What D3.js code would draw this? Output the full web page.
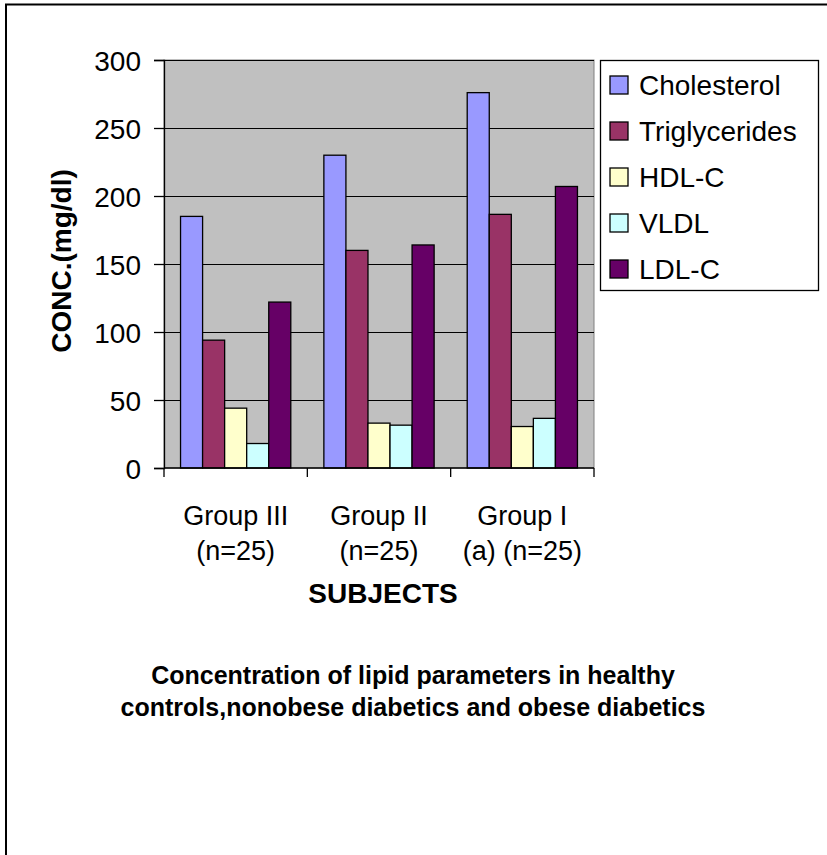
<!DOCTYPE html>
<html>
<head>
<meta charset="utf-8">
<script src="https://cdn.jsdelivr.net/npm/d3@7"></script>
<style>
  body { margin: 0; background: #fff; }
  svg text { font-family: "Liberation Sans", Arial, sans-serif; fill: #000; }
</style>
</head>
<body>
<div id="chart"></div>
<script>

// Data
const groups = ["Group III", "Group II", "Group I"]
const groupSubLabels = ["(n=25)", "(n=25)", "(a) (n=25)"]
const series = ["Cholesterol", "Triglycerides", "HDL-C", "VLDL", "LDL-C"]
const cholesterol = [185, 230, 276]
const triglycerides = [94, 160, 186.5]
const hdl = [44, 33, 30.5]
const vldl = [18, 31.5, 36.5]
const ldl = [122, 164, 207]
const yTicks = [0, 50, 100, 150, 200, 250, 300]

const seriesValues = [cholesterol, triglycerides, hdl, vldl, ldl]
const colors = ["#9999FF", "#993366", "#FFFFCC", "#CCFFFF", "#660066"]

const width = 827
const height = 855
const plot = {left: 164, right: 594, top: 60, bottom: 468}

const svg = d3.select("#chart")
    .append("svg")
    .attr("width", width)
    .attr("height", height)

// Outer frame (only top and left visible in the picture)
svg.append("rect")
    .attr("x", 6)
    .attr("y", 4.5)
    .attr("width", width + 10)
    .attr("height", height + 10)
    .attr("fill", "none")
    .attr("stroke", "#000")
    .attr("stroke-width", 2)

// Scales
const x0 = d3.scaleBand()
    .domain(groups)
    .range([plot.left, plot.right])

const x1 = d3.scaleBand()
    .domain(series)
    .range([0, x0.bandwidth()])
    .paddingOuter(0.75)

const y = d3.scaleLinear()
    .domain([0, 300])
    .range([plot.bottom, plot.top])

// Plot area
svg.append("rect")
    .attr("x", plot.left)
    .attr("y", plot.top)
    .attr("width", plot.right - plot.left)
    .attr("height", plot.bottom - plot.top)
    .attr("fill", "#C0C0C0")
    .attr("stroke", "#808080")
    .attr("stroke-width", 1)

// Gridlines
svg.append("g")
    .selectAll("line")
    .data(yTicks.filter(d => d > 0))
    .enter()
    .append("line")
    .attr("x1", plot.left)
    .attr("x2", plot.right)
    .attr("y1", d => Math.round(y(d)) + 0.5)
    .attr("y2", d => Math.round(y(d)) + 0.5)
    .attr("stroke", "#000")
    .attr("stroke-width", 1)

// Bars
const table = groups.map((g, i) => ({
    group: g,
    values: series.map((s, j) => ({series: s, value: seriesValues[j][i], color: colors[j]}))
}))

svg.append("g")
    .selectAll("g")
    .data(table)
    .enter()
    .append("g")
    .attr("transform", d => `translate(${x0(d.group)},0)`)
    .selectAll("rect")
    .data(d => d.values)
    .enter()
    .append("rect")
    .attr("x", d => x1(d.series))
    .attr("y", d => y(d.value))
    .attr("width", x1.bandwidth())
    .attr("height", d => y(0) - y(d.value))
    .attr("fill", d => d.color)
    .attr("stroke", "#000")
    .attr("stroke-width", 1.3)

// Y axis
const yAxis = d3.axisLeft(y)
    .tickValues(yTicks)
    .tickSize(10)
    .tickPadding(13)

const yg = svg.append("g")
    .attr("transform", `translate(${plot.left},0)`)
    .call(yAxis)
yg.select(".domain").attr("stroke", "#000").attr("stroke-width", 1.3)
yg.selectAll(".tick line").attr("stroke", "#000").attr("stroke-width", 1.3)
yg.selectAll(".tick text")
    .attr("font-size", 28)
    .attr("font-family", "Liberation Sans, Arial, sans-serif")
    .attr("dy", "0.36em")

// X axis line and boundary ticks
svg.append("line")
    .attr("x1", plot.left)
    .attr("x2", plot.right)
    .attr("y1", plot.bottom)
    .attr("y2", plot.bottom)
    .attr("stroke", "#000")
    .attr("stroke-width", 1.3)

const bounds = groups.map(g => x0(g)).concat([x0(groups[groups.length - 1]) + x0.bandwidth()])
svg.append("g")
    .selectAll("line")
    .data(bounds)
    .enter()
    .append("line")
    .attr("x1", d => d)
    .attr("x2", d => d)
    .attr("y1", plot.bottom)
    .attr("y2", plot.bottom + 9)
    .attr("stroke", "#000")
    .attr("stroke-width", 1.3)

// Category labels
const xl = svg.append("g")
    .selectAll("text")
    .data(groups)
    .enter()
    .append("text")
    .attr("text-anchor", "middle")
    .attr("font-size", 27)
    .attr("x", d => x0(d) + x0.bandwidth() / 2)

xl.append("tspan")
    .attr("x", d => x0(d) + x0.bandwidth() / 2)
    .attr("y", 525)
    .text(d => d)
xl.append("tspan")
    .attr("x", d => x0(d) + x0.bandwidth() / 2)
    .attr("y", 560)
    .text((d, i) => groupSubLabels[i])

// Axis titles
svg.append("text")
    .attr("x", (plot.left + plot.right) / 2 + 4)
    .attr("y", 603)
    .attr("text-anchor", "middle")
    .attr("font-size", 28)
    .attr("font-weight", "bold")
    .text("SUBJECTS")

svg.append("text")
    .attr("transform", `translate(71,${(plot.top + plot.bottom) / 2 - 3}) rotate(-90)`)
    .attr("text-anchor", "middle")
    .attr("font-size", 28)
    .attr("font-weight", "bold")
    .text("CONC.(mg/dl)")

// Legend
const legend = svg.append("g")

legend.append("rect")
    .attr("x", 600.5)
    .attr("y", 60.5)
    .attr("width", 218)
    .attr("height", 230)
    .attr("fill", "#fff")
    .attr("stroke", "#000")
    .attr("stroke-width", 1.3)

const items = legend.selectAll("g.item")
    .data(series)
    .enter()
    .append("g")
    .attr("class", "item")
    .attr("transform", (d, i) => `translate(0,${85 + i * 46})`)

items.append("rect")
    .attr("x", 610)
    .attr("y", -9)
    .attr("width", 18)
    .attr("height", 18)
    .attr("fill", (d, i) => colors[i])
    .attr("stroke", "#000")
    .attr("stroke-width", 1.3)

items.append("text")
    .attr("x", 639)
    .attr("y", 10)
    .attr("font-size", 28)
    .text(d => d)

// Caption
const caption = ["Concentration of lipid parameters in healthy",
    "controls,nonobese diabetics and obese diabetics"]

svg.append("g")
    .selectAll("text")
    .data(caption)
    .enter()
    .append("text")
    .attr("x", 413)
    .attr("y", (d, i) => 684 + i * 32)
    .attr("text-anchor", "middle")
    .attr("font-size", 25)
    .attr("font-weight", "bold")
    .text(d => d)

</script>
</body>
</html>
